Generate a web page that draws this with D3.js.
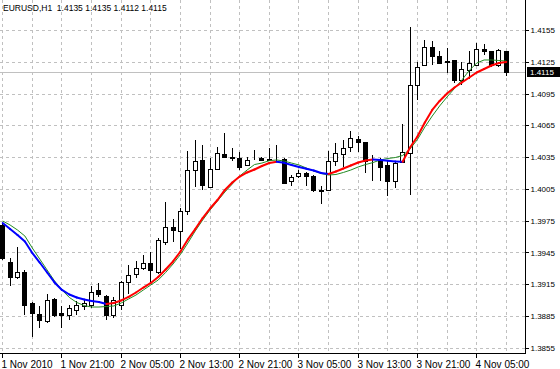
<!DOCTYPE html>
<html>
<head>
<meta charset="utf-8">
<script src="https://cdn.jsdelivr.net/npm/d3@7"></script>
<style>
  body { margin: 0; background: #fff; }
  svg { display: block; font-family: "Liberation Sans", Arial, sans-serif; font-size: 8.5px; }
  .grid line { stroke: #c0c0c0; stroke-dasharray: 3,3; shape-rendering: crispEdges; }
  .axis text { fill: #000; }
  .axis line { stroke: #000; shape-rendering: crispEdges; }
  .axis path { display: none; }
  .price text, .last { font-size: 8px; }
</style>
</head>
<body>
<svg id="chart" width="560" height="369"></svg>
<script>
const title = "EURUSD,H1  1.4135 1.4135 1.4112 1.4115";

const opens = [1.3971, 1.3936, 1.3922, 1.3927, 1.3897, 1.3887, 1.3880, 1.3901, 1.3888, 1.3886,
  1.3891, 1.3894, 1.3895, 1.3910, 1.3904, 1.3886, 1.3895, 1.3917, 1.3925, 1.3930,
  1.3935, 1.3927, 1.3955, 1.3969, 1.3965, 1.3984, 1.4023, 1.4032, 1.4007, 1.4024,
  1.4038, 1.4035, 1.4034, 1.4028, 1.4033, 1.4034, 1.4032, 1.4033, 1.4033, 1.4012,
  1.4017, 1.4020, 1.4017, 1.4004, 1.4004, 1.4031, 1.4038, 1.4045, 1.4052, 1.4049,
  1.4031, 1.4031, 1.4028, 1.4012, 1.4030, 1.4039, 1.4103, 1.4122, 1.4139, 1.4130,
  1.4125, 1.4127, 1.4108, 1.4117, 1.4122, 1.4137, 1.4135, 1.4122, 1.4135];
const highs = [1.3973, 1.3940, 1.3950, 1.3928, 1.3898, 1.3894, 1.3906, 1.3902, 1.3894, 1.3895,
  1.3899, 1.3901, 1.3913, 1.3916, 1.3905, 1.3903, 1.3918, 1.3933, 1.3937, 1.3943,
  1.3945, 1.3959, 1.3993, 1.3977, 1.3987, 1.4041, 1.4051, 1.4046, 1.4034, 1.4045,
  1.4058, 1.4044, 1.4040, 1.4035, 1.4042, 1.4035, 1.4044, 1.4046, 1.4034, 1.4018,
  1.4023, 1.4021, 1.4018, 1.4008, 1.4041, 1.4048, 1.4051, 1.4060, 1.4055, 1.4049,
  1.4037, 1.4034, 1.4032, 1.4031, 1.4066, 1.4158, 1.4125, 1.4146, 1.4145, 1.4135,
  1.4138, 1.4127, 1.4125, 1.4135, 1.4143, 1.4142, 1.4135, 1.4137, 1.4135];
const lows = [1.3938, 1.3913, 1.3920, 1.3886, 1.3865, 1.3874, 1.3878, 1.3884, 1.3874, 1.3881,
  1.3886, 1.3891, 1.3893, 1.3903, 1.3881, 1.3883, 1.3891, 1.3906, 1.3921, 1.3928,
  1.3916, 1.3925, 1.3952, 1.3955, 1.3948, 1.3980, 1.4007, 1.4004, 1.4006, 1.4024,
  1.4035, 1.4031, 1.4023, 1.4027, 1.4032, 1.4032, 1.4032, 1.4031, 1.4010, 1.4008,
  1.4015, 1.4008, 1.4002, 1.3991, 1.4003, 1.4027, 1.4026, 1.4040, 1.4040, 1.4020,
  1.4012, 1.4012, 1.3998, 1.4006, 1.4029, 1.3999, 1.4089, 1.4122, 1.4122, 1.4123,
  1.4114, 1.4105, 1.4103, 1.4109, 1.4122, 1.4131, 1.4120, 1.4120, 1.4112];
const closes = [1.3940, 1.3922, 1.3927, 1.3895, 1.3888, 1.3881, 1.3900, 1.3886, 1.3886, 1.3893,
  1.3895, 1.3897, 1.3908, 1.3906, 1.3886, 1.3900, 1.3917, 1.3924, 1.3930, 1.3935,
  1.3928, 1.3957, 1.3969, 1.3966, 1.3984, 1.4023, 1.4031, 1.4009, 1.4024, 1.4039,
  1.4035, 1.4034, 1.4026, 1.4032, 1.4033, 1.4032, 1.4033, 1.4033, 1.4011, 1.4016,
  1.4020, 1.4017, 1.4004, 1.4003, 1.4031, 1.4039, 1.4044, 1.4053, 1.4049, 1.4031,
  1.4031, 1.4026, 1.4012, 1.4029, 1.4040, 1.4103, 1.4120, 1.4139, 1.4130, 1.4124,
  1.4126, 1.4108, 1.4118, 1.4124, 1.4137, 1.4135, 1.4122, 1.4136, 1.4115];

// thick two-colour average (red rising, blue falling)
const maFast = [1.39728, 1.39671, 1.39615, 1.39553, 1.39445, 1.39355, 1.39261, 1.39167, 1.39096, 1.39053,
  1.39025, 1.39006, 1.38992, 1.38983, 1.38964, 1.38973, 1.38997, 1.39030, 1.39072, 1.39119,
  1.39162, 1.39219, 1.39289, 1.39365, 1.39459, 1.39573, 1.39671, 1.39775, 1.39865, 1.39945,
  1.40040, 1.40110, 1.40167, 1.40205, 1.40233, 1.40266, 1.40294, 1.40307, 1.40296, 1.40276,
  1.40257, 1.40241, 1.40224, 1.40200, 1.40191, 1.40214, 1.40243, 1.40271, 1.40299, 1.40318,
  1.40328, 1.40323, 1.40316, 1.40309, 1.40307, 1.40441, 1.40545, 1.40677, 1.40795, 1.40880,
  1.40951, 1.41007, 1.41054, 1.41102, 1.41149, 1.41182, 1.41215, 1.41238, 1.41248];
// thin green average
const maSlow = [1.39747, 1.39709, 1.39662, 1.39605, 1.39492, 1.39388, 1.39284, 1.39181, 1.39096, 1.39025,
  1.38978, 1.38949, 1.38935, 1.38935, 1.38940, 1.38945, 1.38973, 1.39011, 1.39048, 1.39096,
  1.39143, 1.39190, 1.39261, 1.39341, 1.39431, 1.39539, 1.39653, 1.39756, 1.39851, 1.39936,
  1.40021, 1.40096, 1.40172, 1.40228, 1.40280, 1.40294, 1.40316, 1.40323, 1.40313, 1.40294,
  1.40276, 1.40247, 1.40219, 1.40195, 1.40181, 1.40186, 1.40205, 1.40228, 1.40257, 1.40280,
  1.40299, 1.40323, 1.40337, 1.40346, 1.40365, 1.40427, 1.40516, 1.40634, 1.40738, 1.40833,
  1.40918, 1.40998, 1.41078, 1.41168, 1.41238, 1.41267, 1.41267, 1.41262, 1.41257];

const priceTicks = [1.3855, 1.3885, 1.3915, 1.3945, 1.3975, 1.4005, 1.4035, 1.4065, 1.4095, 1.4125, 1.4155];
const timeTickBars = [0, 8, 16, 24, 32, 40, 48, 56, 64];
const timeTickLabels = ["1 Nov 2010", "1 Nov 21:00", "2 Nov 05:00", "2 Nov 13:00", "2 Nov 21:00",
  "3 Nov 05:00", "3 Nov 13:00", "3 Nov 21:00", "4 Nov 05:00"];
const lastPrice = 1.4115;

const plotW = 525, plotH = 353;
const svg = d3.select("#chart");

const x = d3.scaleLinear().domain([0, 68]).range([2.7, 506.3]);
const y = d3.scaleLinear().domain([1.3855, 1.4155]).range([347.8, 30]);
const px = i => Math.round(x(i) - 0.5) + 0.5;

// grid
const grid = svg.append("g").attr("class", "grid");
grid.selectAll(".h").data(priceTicks).enter().append("line")
    .attr("x1", 0).attr("x2", plotW)
    .attr("y1", d => Math.round(y(d)) + 0.5).attr("y2", d => Math.round(y(d)) + 0.5);
grid.selectAll(".v").data(d3.range(0, opens.length, 4)).enter().append("line")
    .attr("x1", d => px(d)).attr("x2", d => px(d))
    .attr("y1", 0).attr("y2", plotH);

// last price line
svg.append("line")
    .attr("x1", 0).attr("x2", plotW)
    .attr("y1", Math.round(y(lastPrice)) + 0.5).attr("y2", Math.round(y(lastPrice)) + 0.5)
    .attr("stroke", "#c0c0c0").attr("shape-rendering", "crispEdges");

// candles
const idx = d3.range(opens.length);
const candles = svg.append("g").attr("shape-rendering", "crispEdges");
candles.selectAll(".wick").data(idx).enter().append("line")
    .attr("x1", px).attr("x2", px)
    .attr("y1", i => y(highs[i])).attr("y2", i => y(lows[i]))
    .attr("stroke", "#000");
candles.selectAll(".body").data(idx).enter().append("rect")
    .attr("x", i => px(i) - 2)
    .attr("width", 4)
    .attr("y", i => Math.round(y(Math.max(opens[i], closes[i]))) + 0.5)
    .attr("height", i => Math.max(0, Math.round(y(Math.min(opens[i], closes[i]))) - Math.round(y(Math.max(opens[i], closes[i])))))
    .attr("fill", i => closes[i] >= opens[i] ? "#fff" : "#000")
    .attr("stroke", "#000");

// moving averages
const line = d3.line().x((d, i) => x(i)).y(d => y(d));
svg.append("path").datum(maSlow)
    .attr("d", line).attr("fill", "none")
    .attr("stroke", "#228b22").attr("stroke-width", 1);

const segs = d3.range(1, maFast.length);
svg.append("g").selectAll("line").data(segs).enter().append("line")
    .attr("x1", i => x(i - 1)).attr("x2", i => x(i))
    .attr("y1", i => y(maFast[i - 1])).attr("y2", i => y(maFast[i]))
    .attr("stroke", i => maFast[i] >= maFast[i - 1] ? "#ff0000" : "#0000ff")
    .attr("stroke-width", 2).attr("stroke-linecap", "round");

// frame
svg.append("path")
    .attr("d", `M${plotW + 0.5},0V${plotH + 0.5}H0`)
    .attr("fill", "none").attr("stroke", "#000").attr("shape-rendering", "crispEdges");

// price axis
svg.append("g").attr("class", "axis price")
    .attr("transform", `translate(${plotW + 0.5},0)`)
    .call(d3.axisRight(y).tickValues(priceTicks).tickSize(3).tickPadding(2).tickFormat(d3.format(".4f")));

// time axis
const xb = svg.append("g").attr("class", "axis")
    .attr("transform", `translate(0,${plotH + 0.5})`)
    .call(d3.axisBottom(x).tickValues(timeTickBars).tickSize(4).tickPadding(3)
      .tickFormat((d, i) => timeTickLabels[i]));
xb.selectAll(".tick").attr("transform", d => `translate(${px(d)},0)`);
xb.selectAll("text").attr("text-anchor", "start").attr("dx", -1);

// current price marker
const ly = Math.round(y(lastPrice));
svg.append("rect").attr("x", plotW + 2).attr("y", ly - 5).attr("width", 560 - plotW - 2).attr("height", 10).attr("fill", "#000");
svg.append("text").attr("class", "last").attr("x", plotW + 5).attr("y", ly).attr("dy", "0.32em")
    .attr("fill", "#fff").text(d3.format(".4f")(lastPrice));

// title
svg.append("text").attr("x", 3).attr("y", 11).attr("fill", "#000")
    .style("white-space", "pre").text(title);
</script>
</body>
</html>
